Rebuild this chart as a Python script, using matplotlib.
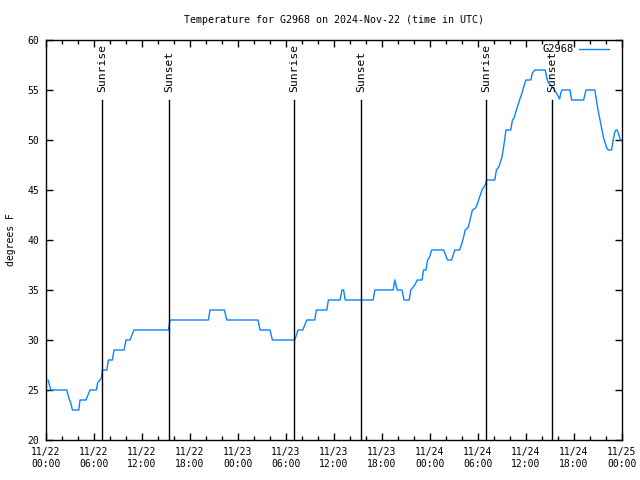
import matplotlib
matplotlib.use("Agg")
import matplotlib.pyplot as plt

# hours since 2024-11-22 00:00 UTC and temperature (F)
hours = [0.25, 0.6, 2.6, 2.85, 3.1, 3.3, 4.1, 4.25, 5.0, 5.5, 6.3, 6.45, 6.75, 6.95,
         7.05, 7.6, 7.8, 8.3, 8.5, 9.75, 10.0, 10.5, 11.0, 15.3, 15.5, 20.3, 20.5,
         22.3, 22.6, 26.5, 26.75, 28.0, 28.3, 31.1, 31.3, 31.5, 32.1, 32.6, 33.6,
         33.8, 35.1, 35.3, 36.75, 37.0, 37.2, 37.4, 40.9, 41.1, 43.4, 43.6, 43.9,
         44.5, 44.75, 45.4, 45.6, 46.1, 46.4, 47.0, 47.2, 47.5, 47.7, 47.95, 48.2,
         49.7, 50.2, 50.7, 51.1, 51.7, 52.0, 52.2, 52.4, 52.8, 53.0, 53.3, 53.7,
         54.0, 54.2, 54.5, 54.9, 55.1, 56.1, 56.3, 56.6, 57.0, 57.2, 57.5, 58.1,
         58.3, 58.5, 58.8, 59.2, 59.5, 59.7, 60.0, 60.6, 60.8, 61.1, 62.4, 62.6,
         62.8, 63.4, 63.8, 64.2, 64.35, 64.5, 65.5, 65.7, 67.2, 67.5, 68.6, 68.8,
         69.0, 69.25, 69.5, 69.7, 69.9, 70.1, 70.3, 70.7, 70.9, 71.1, 71.25, 71.4,
         71.7, 71.8]
temps = [26, 25, 25, 24.2, 23.7, 23, 23, 24, 24, 25, 25, 25.7, 26, 26.3,
         27, 27, 28, 28, 29, 29, 30, 30, 31, 31, 32, 32, 33,
         33, 32, 32, 31, 31, 30, 30, 30.5, 31, 31, 32, 32,
         33, 33, 34, 34, 35, 35, 34, 34, 35, 35, 36, 35,
         35, 34, 34, 35, 35.5, 36, 36, 37, 37, 38, 38.3, 39,
         39, 38, 38, 39, 39, 39.7, 40.3, 41, 41.3, 42, 43, 43.2,
         43.8, 44.3, 45, 45.5, 46, 46, 47, 47.3, 48.3, 49.3, 51, 51,
         52, 52.2, 53, 54, 54.7, 55.3, 56, 56, 56.7, 57, 57, 56.2,
         55.7, 55.2, 54.7, 54.1, 54.7, 55, 55, 54, 54, 55, 55, 54,
         53, 52, 51, 50.2, 49.7, 49.2, 49, 49, 50, 50.8, 51, 51,
         50.3, 50]

events = ["Sunrise", "Sunset", "Sunrise", "Sunset", "Sunrise", "Sunset"]
event_hours = [7.0, 15.375, 31.0, 39.375, 55.0, 63.25]

tick_hours = [0, 6, 12, 18, 24, 30, 36, 42, 48, 54, 60, 66, 72]
tick_labels = ["11/22\n00:00", "11/22\n06:00", "11/22\n12:00", "11/22\n18:00",
               "11/23\n00:00", "11/23\n06:00", "11/23\n12:00", "11/23\n18:00",
               "11/24\n00:00", "11/24\n06:00", "11/24\n12:00", "11/24\n18:00",
               "11/25\n00:00"]

plt.rcParams['font.family'] = ['DejaVu Sans Mono']
plt.rcParams['font.size'] = 7

fig = plt.figure(figsize=(6.4, 4.8), dpi=100)
ax = fig.add_axes([46/640, 40/480, 576/640, 400/480])

ax.plot(hours, temps, color='#0a84ff', lw=1.0, label='G2968')

for name, h in zip(events, event_hours):
    ax.plot([h, h], [20, 54], color='black', lw=1.0)
    ax.text(h, 54.8, name, rotation=90, ha='center', va='bottom', fontsize=8.2)

ax.set_xlim(0, 72)
ax.set_ylim(20, 60)
ax.set_xticks(tick_hours)
ax.set_xticklabels(tick_labels)
ax.set_xticks(range(0, 73, 2), minor=True)
ax.set_yticks(range(20, 61, 5))
ax.tick_params(which='both', direction='in', top=True, right=True, width=1.0)
ax.tick_params(which='major', length=5, pad=5)
ax.tick_params(which='minor', length=3)
for s in ax.spines.values():
    s.set_linewidth(1.0)

ax.set_ylabel("degrees F", labelpad=8)
ax.set_title("Temperature for G2968 on 2024-Nov-22 (time in UTC)", fontsize=7.2, pad=12)
ax.legend(loc='upper right', frameon=False, markerfirst=False, handlelength=2.9,
          handletextpad=0.5, borderaxespad=0.2, fontsize=7.5,
          bbox_to_anchor=(1 - 7/576, 1 + 2/400))

fig.savefig("out.png", dpi=100)
